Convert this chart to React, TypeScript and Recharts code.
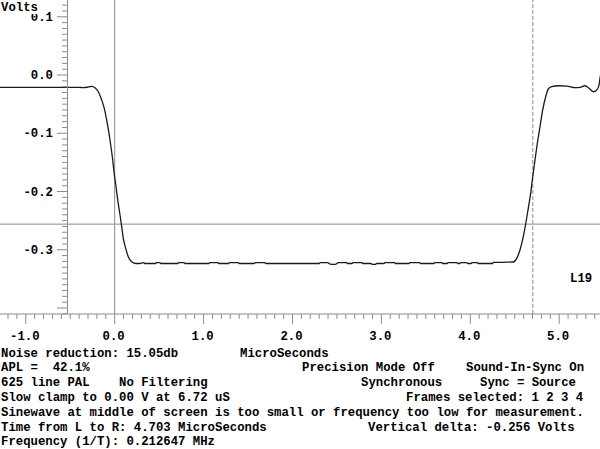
import React from "react";
import { LineChart, Line, XAxis, YAxis, ReferenceLine } from "recharts";

// waveform: time in microseconds, level in volts
const TIME_US = [
  -1.35, -0.8, -0.4, -0.353, -0.297, -0.255, -0.222, -0.184, -0.146, -0.117,
  -0.09, -0.064, -0.042, -0.022, -0.008, 0.015, 0.037, 0.06, 0.079, 0.097,
  0.124, 0.153, 0.191, 0.24, 0.285, 0.322, 0.345,
  0.46, 0.47, 0.51, 0.52, 0.71, 0.72, 0.78, 0.79,
  1.06, 1.07, 1.16, 1.17, 1.28, 1.29, 1.39, 1.4, 1.57, 1.58, 1.69, 1.7,
  2.3, 2.31, 2.4, 2.41, 2.44, 2.48, 2.5, 2.51, 2.61, 2.62,
  2.67, 2.68, 2.78, 2.79, 2.88, 2.9, 2.93, 2.95,
  3.03, 3.04, 3.15, 3.16, 3.31, 3.32, 3.43, 3.44,
  3.59, 3.6, 3.68, 3.69, 3.74, 3.75, 3.85, 3.86, 3.88, 3.89, 3.96, 3.97,
  4.01, 4.02, 4.08, 4.09, 4.25, 4.26, 4.34, 4.4,
  4.484, 4.522, 4.559, 4.596, 4.623, 4.652, 4.679, 4.702, 4.728, 4.754,
  4.784, 4.814, 4.848, 4.877, 4.916, 4.99, 5.084, 5.178, 5.234, 5.29,
  5.335, 5.384, 5.422, 5.448, 5.459, 5.47,
];

const VOLTS = [
  -0.0211, -0.0211, -0.0211, -0.0218, -0.0206, -0.0194, -0.0218, -0.0287, -0.0429, -0.0572,
  -0.0773, -0.1001, -0.1231, -0.1459, -0.166, -0.1918, -0.2175, -0.2403, -0.2604, -0.2803,
  -0.2975, -0.3119, -0.3205, -0.3236, -0.3236, -0.3222, -0.3236,
  -0.3236, -0.3221, -0.3221, -0.3236, -0.3236, -0.3221, -0.3221, -0.3236,
  -0.3236, -0.3221, -0.3221, -0.3236, -0.3236, -0.3221, -0.3221, -0.3236, -0.3236, -0.3221, -0.3221, -0.3236,
  -0.3236, -0.3221, -0.3221, -0.3236, -0.325, -0.325, -0.3236, -0.3221, -0.3221, -0.3236,
  -0.3236, -0.3221, -0.3221, -0.3236, -0.3236, -0.325, -0.325, -0.3236,
  -0.3236, -0.3221, -0.3221, -0.3236, -0.3236, -0.3221, -0.3221, -0.3236,
  -0.3236, -0.3221, -0.3221, -0.3236, -0.3236, -0.3221, -0.3221, -0.3236, -0.3236, -0.3221, -0.3221, -0.3236,
  -0.3236, -0.3221, -0.3221, -0.3236, -0.3236, -0.3218, -0.3218, -0.3214,
  -0.321, -0.3147, -0.3004, -0.2776, -0.2558, -0.2288, -0.2031, -0.1746, -0.1459, -0.1173,
  -0.0888, -0.0601, -0.0373, -0.024, -0.0201, -0.0184, -0.0189, -0.0218, -0.0211, -0.0184,
  -0.0228, -0.0287, -0.0258, -0.0172, -0.0057, 0.004,
];

const X_LABELS = [-1, 0, 1, 2, 3, 4, 5];
const Y_LABELS = [0.1, 0, -0.1, -0.2, -0.3];

// cursors
const CURSOR_L = 0;
const CURSOR_R = 4.703;
const LEVEL = -0.256;

const X_MIN = -1.29;
const X_MAX = 5.459;
const Y_MIN = -0.4103;
const Y_MAX = 0.1288;
const Y_AXIS_AT = -0.531; // where the volts axis crosses the time axis

const W = 600;
const H = 449;
const PLOT_H = 314;

const X_TICKS = Array.from({ length: 67 }, (_, i) => Math.round((-1.2 + i * 0.1) * 10) / 10);
const Y_TICKS = Array.from({ length: 54 }, (_, i) => Math.round((-0.41 + i * 0.01) * 100) / 100);

const TEXT_ROWS: [number, string][][] = [
  [[1, "Noise reduction: 15.05db"], [240, "MicroSeconds"]],
  [[1, "APL =  42.1%"], [302, "Precision Mode Off"], [466, "Sound-In-Sync On"]],
  [[1, "625 line PAL"], [119, "No Filtering"], [361, "Synchronous"], [480, "Sync = Source"]],
  [[1, "Slow clamp to 0.00 V at 6.72 uS"], [406, "Frames selected: 1 2 3 4"]],
  [[1, "Sinewave at middle of screen is too small or frequency too low for measurement."]],
  [[1, "Time from L to R: 4.703 MicroSeconds"], [368, "Vertical delta: -0.256 Volts"]],
  [[1, "Frequency (1/T): 0.212647 MHz"]],
];

const FONT = "'Liberation Mono', 'DejaVu Sans Mono', monospace";
const FONT_SIZE = 12.3;
const GRAY = "#8c8c8c";

const Y_AXIS_PX = Math.round(((Y_AXIS_AT - X_MIN) / (X_MAX - X_MIN)) * W);

const data = TIME_US.map((t, i) => ({ t, v: VOLTS[i] }));

function XTick(props: any) {
  const { x, y, payload } = props;
  const v = payload.value;
  const major = Number.isInteger(v);
  return (
    <g>
      <line x1={x} x2={x} y1={y} y2={y + (major ? 10 : 5)} stroke={GRAY} />
      {major && X_LABELS.includes(v) && (
        <text
          x={x - 1}
          y={y + 26}
          textAnchor="middle"
          fontFamily={FONT}
          fontWeight="bold"
          fontSize={FONT_SIZE}
          fill="#000"
        >
          {v.toFixed(1)}
        </text>
      )}
    </g>
  );
}

function YTick(props: any) {
  const { y, payload } = props;
  const v = payload.value;
  const major = Math.abs(v * 10 - Math.round(v * 10)) < 1e-6;
  const label = Y_LABELS.find((l) => Math.abs(l - v) < 1e-6);
  return (
    <g>
      <line x1={Y_AXIS_PX - (major ? 10 : 5)} x2={Y_AXIS_PX + 0.5} y1={y} y2={y} stroke={GRAY} />
      {label !== undefined && (
        <text
          x={53}
          y={y + 4}
          textAnchor="end"
          fontFamily={FONT}
          fontWeight="bold"
          fontSize={FONT_SIZE}
          fill="#000"
        >
          {label.toFixed(1)}
        </text>
      )}
    </g>
  );
}

const textStyle: React.CSSProperties = {
  position: "absolute",
  fontFamily: FONT,
  fontWeight: "bold",
  fontSize: FONT_SIZE,
  lineHeight: "14px",
  whiteSpace: "pre",
  color: "#000",
};

export default function App() {
  return (
    <div style={{ position: "absolute", left: 0, top: 0, width: W, height: H, background: "#fff" }}>
      <LineChart width={W} height={H} data={data} margin={{ top: 0, right: 0, bottom: 0, left: -1 }}>
        <XAxis
          type="number"
          dataKey="t"
          domain={[X_MIN, X_MAX]}
          allowDataOverflow
          ticks={X_TICKS}
          interval={0}
          height={H - PLOT_H}
          tickSize={0}
          tickMargin={0}
          tickLine={false}
          axisLine={{ stroke: GRAY }}
          tick={<XTick />}
        />
        <YAxis
          type="number"
          domain={[Y_MIN, Y_MAX]}
          allowDataOverflow
          ticks={Y_TICKS}
          interval={0}
          width={1}
          tickSize={0}
          tickMargin={0}
          tickLine={false}
          axisLine={false}
          tick={<YTick />}
        />
        <ReferenceLine x={CURSOR_L} stroke={GRAY} />
        <ReferenceLine x={CURSOR_R} stroke={GRAY} strokeDasharray="4 2" />
        <ReferenceLine y={LEVEL} stroke={GRAY} />
        <Line
          type="monotone"
          dataKey="v"
          stroke="#1a1a1a"
          strokeWidth={1.3}
          dot={false}
          activeDot={false}
          isAnimationActive={false}
        />
      </LineChart>
      {/* volts axis spine, crossing the time axis at Y_AXIS_AT */}
      <div
        style={{
          position: "absolute",
          left: Y_AXIS_PX,
          top: 0,
          width: 1,
          height: PLOT_H,
          background: GRAY,
        }}
      />
      <div style={{ ...textStyle, left: 1, top: 2, lineHeight: "12px", background: "#fff", paddingRight: 1 }}>
        Volts
      </div>
      <div style={{ ...textStyle, left: 570, top: 272 }}>L19</div>
      {TEXT_ROWS.map((row, r) =>
        row.map(([left, text], k) => (
          <div key={`${r}-${k}`} style={{ ...textStyle, left, top: 346.5 + r * 14.8 }}>
            {text}
          </div>
        ))
      )}
    </div>
  );
}
